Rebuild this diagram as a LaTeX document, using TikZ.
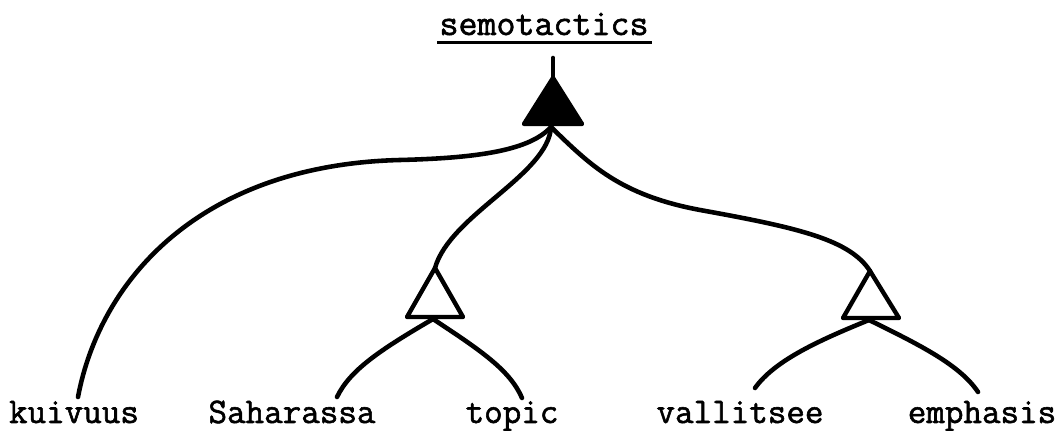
\documentclass[tikz,border=0pt]{standalone}
\usepackage{fontspec}
\newfontfamily\tw[BoldFont={Latin Modern Mono},BoldFeatures={FakeBold=1.6}]{Latin Modern Mono}
\begin{document}
\begin{tikzpicture}[x=0.02cm,y=-0.02cm,
  conn/.style={line width=2.6pt,line cap=round,line join=round},
  tri/.style={line width=2.5pt,line join=round},
  leaf/.style={anchor=base,inner sep=0pt,font=\tw\bfseries\fontsize{20.5pt}{20.5pt}\selectfont},
  title/.style={anchor=base,inner sep=0pt,font=\tw\bfseries\fontsize{21pt}{21pt}\selectfont}]
\useasboundingbox (0,0) rectangle (1064,431);
% title
\node[title] (sem) at (544,35) {semotactics};
\draw[line width=1.7pt] (437,43) -- (652,43);
% top triangle
\coordinate (stemtop) at (553,58);
\coordinate (A) at (553,78);
\coordinate (AL) at (524,124);
\coordinate (AR) at (582,124);
\coordinate (T) at (551,127);
\draw[conn] (stemtop) -- (A);
\fill[tri,draw] (A) -- (AL) -- (AR) -- cycle;
% left small triangle
\coordinate (B) at (435,268);
\coordinate (BL) at (407,317);
\coordinate (BR) at (463,317);
\coordinate (Bb) at (433,319);
\draw[tri] (B) -- (BL) -- (BR) -- cycle;
% right small triangle
\coordinate (C) at (870,271);
\coordinate (CL) at (843,318);
\coordinate (CR) at (899,318);
\coordinate (Cb) at (869,320);
\draw[tri] (C) -- (CL) -- (CR) -- cycle;
% leaves
\node[leaf] (kuivuus) at (74,423) {kuivuus};
\node[leaf] (saharassa) at (292,423) {Saharassa};
\node[leaf] (topic) at (512,423) {topic};
\node[leaf] (vallitsee) at (740,423) {vallitsee};
\node[leaf] (emphasis) at (982,423) {emphasis};
\coordinate (kE) at (78,397);
\coordinate (sE) at (337,397);
\coordinate (tE) at (522,398);
\coordinate (vE) at (755,388);
\coordinate (eE) at (978,392);
% connectors
\draw[conn] (T) .. controls (530,150) and (480,158) .. (400,160)
               .. controls (200,165) and (100,280) .. (kE);
\draw[conn] (T) .. controls (548,175) and (450,215) .. (B);
\draw[conn] (T) .. controls (590,165) and (620,195) .. (700,210)
               .. controls (800,228) and (850,240) .. (C);
\draw[conn] (Bb) .. controls (380,350) and (350,370) .. (sE);
\draw[conn] (Bb) .. controls (480,350) and (510,370) .. (tE);
\draw[conn] (Cb) .. controls (820,340) and (775,360) .. (vE);
\draw[conn] (Cb) .. controls (920,345) and (960,365) .. (eE);
\end{tikzpicture}
\end{document}
